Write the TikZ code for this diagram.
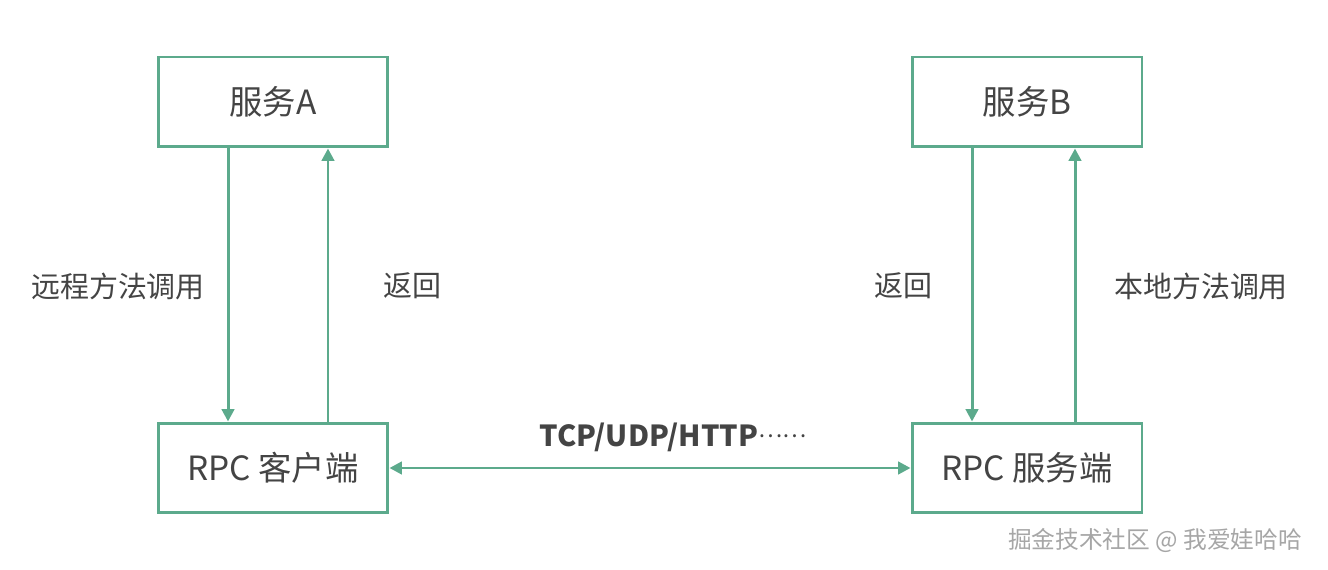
\documentclass[tikz,border=0pt]{standalone}
\usepackage{fontspec}
\setmainfont{Noto Sans CJK SC}
\usepackage{xcolor}
\usepackage{tikz}
\usetikzlibrary{arrows.meta, positioning}

\definecolor{rpcgreen}{RGB}{92,170,140}
\definecolor{rpctext}{RGB}{68,68,68}

\begin{document}
\begin{tikzpicture}[
    x=0.02cm, y=-0.02cm,
    box/.style={draw=rpcgreen, line width=1.7pt, minimum width=4.6cm, minimum height=1.8cm, align=center, text=rpctext, font=\fontsize{19}{22}\selectfont},
    steplabel/.style={text=rpctext, font=\fontsize{16.5}{20}\selectfont},
    protolabel/.style={text=rpctext, font=\fontsize{16.5}{20}\selectfont\bfseries},
    arrow/.style={-{Triangle[length=7pt, width=7pt]}, line width=1.7pt, rpcgreen},
    biarrow/.style={{Triangle[length=7pt, width=7pt]}-{Triangle[length=7pt, width=7pt]}, line width=1.7pt, rpcgreen},
    creditmark/.style={text=black!35, font=\fontsize{13.5}{16}\selectfont}
]
    \useasboundingbox (0,0) rectangle (1328,570);

    % Services and RPC endpoints.
    \node[box] (svcA) at (273, 102) {服务A};
    \node[box] (svcB) at (1027, 102) {服务B};
    \node[box] (client) at (273, 468) {RPC 客户端};
    \node[box] (server) at (1027, 468) {RPC 服务端};

    % Vertical ports.
    \coordinate (callA) at ([xshift=-0.9cm]svcA.south);
    \coordinate (backA) at ([xshift=1.1cm]client.north);
    \coordinate (backB) at ([xshift=-1.1cm]svcB.south);
    \coordinate (callB) at ([xshift=0.96cm]server.north);

    \draw[arrow] (callA) -- (client.north -| callA);
    \draw[arrow] (backA) -- (svcA.south -| backA);
    \draw[arrow] (backB) -- (server.north -| backB);
    \draw[arrow] (callB) -- (svcB.south -| callB);
    \draw[biarrow] (client) -- (server);

    \node[steplabel] (callAtext) at (118, 286) {远程方法调用};
    \node[steplabel] (backAtext) at (412, 286) {返回};
    \node[steplabel] (backBtext) at (903, 286) {返回};
    \node[steplabel] (callBtext) at (1201, 286) {本地方法调用};
    \node[protolabel] (proto) at (673, 437) {TCP/UDP/HTTP\raisebox{0.3em}{\mdseries\fontsize{13}{16}\selectfont ……}};

    \node[creditmark] (credit) at (1155, 540) {掘金技术社区 @ 我爱娃哈哈};
\end{tikzpicture}
\end{document}
